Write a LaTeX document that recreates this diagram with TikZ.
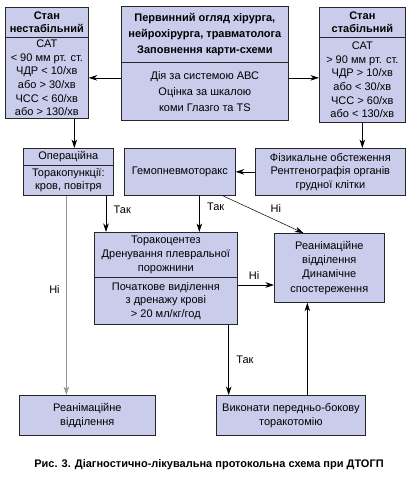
\documentclass[tikz,border=0pt]{standalone}
\usepackage{fontspec}
\setmainfont{Liberation Sans}
\usepackage{xcolor}
\usepackage{tikz}
\usetikzlibrary{arrows.meta,positioning,calc}
\definecolor{boxblue}{RGB}{201,204,234}
\definecolor{linegrey}{RGB}{150,150,150}

\begin{document}
\begin{tikzpicture}[x=1pt, y=-1pt, >={Stealth[length=8.5pt,width=5.5pt,inset=2.5pt]},
    box/.style={draw=black!85, line width=0.7pt, fill=boxblue, align=center, inner sep=1pt,
      anchor=north west, font=\fontsize{11}{13.6}\selectfont},
    boldbox/.style={box, font=\fontsize{11}{13.6}\selectfont\bfseries},
    lbl/.style={font=\fontsize{11}{12}\selectfont},
    conn/.style={->, line width=0.7pt}]
        \useasboundingbox (0,0) rectangle (409,483);
        % Unstable state
        \node[boldbox, minimum width=83, minimum height=30] (unsthead) at (5,7) {Стан\\нестабільний};
        \node[box, minimum width=83, minimum height=81] (unstbody) at (5,37)
            {САТ\\< 90 мм рт. ст.\\ЧДР < 10/хв\\або > 30/хв\\ЧСС < 60/хв\\або > 130/хв};
        % Primary examination
        \node[boldbox, minimum width=167, minimum height=56, font=\fontsize{11}{16}\selectfont\bfseries] (centhead) at (121,6)
            {Первинний огляд хірурга,\\нейрохірурга, травматолога\\Заповнення карти-схеми};
        \node[box, minimum width=167, minimum height=58, font=\fontsize{11}{16}\selectfont] (centbody) at (121,62)
            {Дія за системою АВС\\Оцінка за шкалою\\коми Глазго та TS};
        % Stable state
        \node[boldbox, minimum width=86, minimum height=30] (stabhead) at (319,7) {Стан\\стабільний};
        \node[box, minimum width=86, minimum height=85] (stabbody) at (319,37)
            {САТ\\> 90 мм рт. ст.\\ЧДР > 10/хв\\або < 30/хв\\ЧСС > 60/хв\\або < 130/хв};
        % Second row
        \node[box, minimum width=90, minimum height=17] (operhead) at (23,148) {Операційна};
        \node[box, minimum width=90, minimum height=30] (operbody) at (23,165) {Торакопункції:\\кров, повітря};
        \node[box, minimum width=111, minimum height=47] (gemo) at (124,148) {Гемопневмоторакс};
        \node[box, minimum width=150, minimum height=47] (fiz) at (255,148)
            {Фізикальне обстеження\\Рентгенографія органів\\грудної клітки};
        % Thoracocentesis
        \node[box, minimum width=143, minimum height=45] (torhead) at (94,232)
            {Торакоцентез\\Дренування плевральної\\порожнини};
        \node[box, minimum width=143, minimum height=47] (torbody) at (94,277)
            {Початкове виділення\\з дренажу крові\\> 20 мл/кг/год};
        \node[box, minimum width=110, minimum height=69, font=\fontsize{11}{14.2}\selectfont] (reandyn) at (274,233)
            {Реанімаційне\\відділення\\Динамічне\\спостереження};
        % Bottom row
        \node[box, minimum width=136, minimum height=40] (reanleft) at (19,395) {Реанімаційне\\відділення};
        \node[box, minimum width=149, minimum height=40] (vykon) at (216,395) {Виконати передньо-бокову\\торакотомію};

        % Connectors
        \draw[conn] (centbody.west |- unstbody.east) -- (unstbody.east);
        \draw[conn] (centbody.east |- unstbody.east) -- (stabbody.west |- unstbody.east);
        \draw[conn] ([xshift=27.5pt]unstbody.south) -- ([xshift=27.5pt]unstbody.south |- operhead.north);
        \draw[conn] (stabbody.south) -- (stabbody.south |- fiz.north);
        \draw[conn] (fiz.west) -- (gemo.east);
        \draw[conn] ([xshift=12pt]torhead.north west |- operbody.south) -- ([xshift=12pt]torhead.north west)
            node[lbl, pos=0.4, right=4pt] (tak1) {Так};
        \draw[conn] ([xshift=19.5pt]gemo.south) -- ([xshift=19.5pt]gemo.south |- torhead.north)
            node[lbl, pos=0.3, right=4pt] (tak2) {Так};
        \draw[->, line width=0.5pt] ([xshift=-13pt]gemo.south east) -- ([xshift=-26pt]reandyn.north)
            node[lbl, pos=0.55, above right=0pt and 0pt] (ni1) {Ні};
        \draw[conn] ([yshift=-8pt]torbody.north east) -- ([yshift=-8pt]torbody.north east -| reandyn.west)
            node[lbl, pos=0.45, above=2pt] (ni2) {Ні};
        \draw[->, line width=0.7pt, draw=linegrey] ([xshift=-2pt]operbody.south) -- ([xshift=-2pt]operbody.south |- reanleft.north)
            node[lbl, pos=0.47, left=3pt] (ni3) {Ні};
        \draw[conn] ([xshift=-9pt]torbody.south east) -- ([xshift=-9pt]torbody.south east |- vykon.north)
            node[lbl, pos=0.5, right=4pt] (tak3) {Так};
        \draw[conn] ([xshift=-22pt]reandyn.south |- vykon.north) -- ([xshift=-22pt]reandyn.south);

        % Caption
        \node[font=\fontsize{11}{13}\selectfont\bfseries] (caption) at (209,465)
            {Рис. 3. Діагностично-лікувальна протокольна схема при ДТОГП};
\end{tikzpicture}
\end{document}
